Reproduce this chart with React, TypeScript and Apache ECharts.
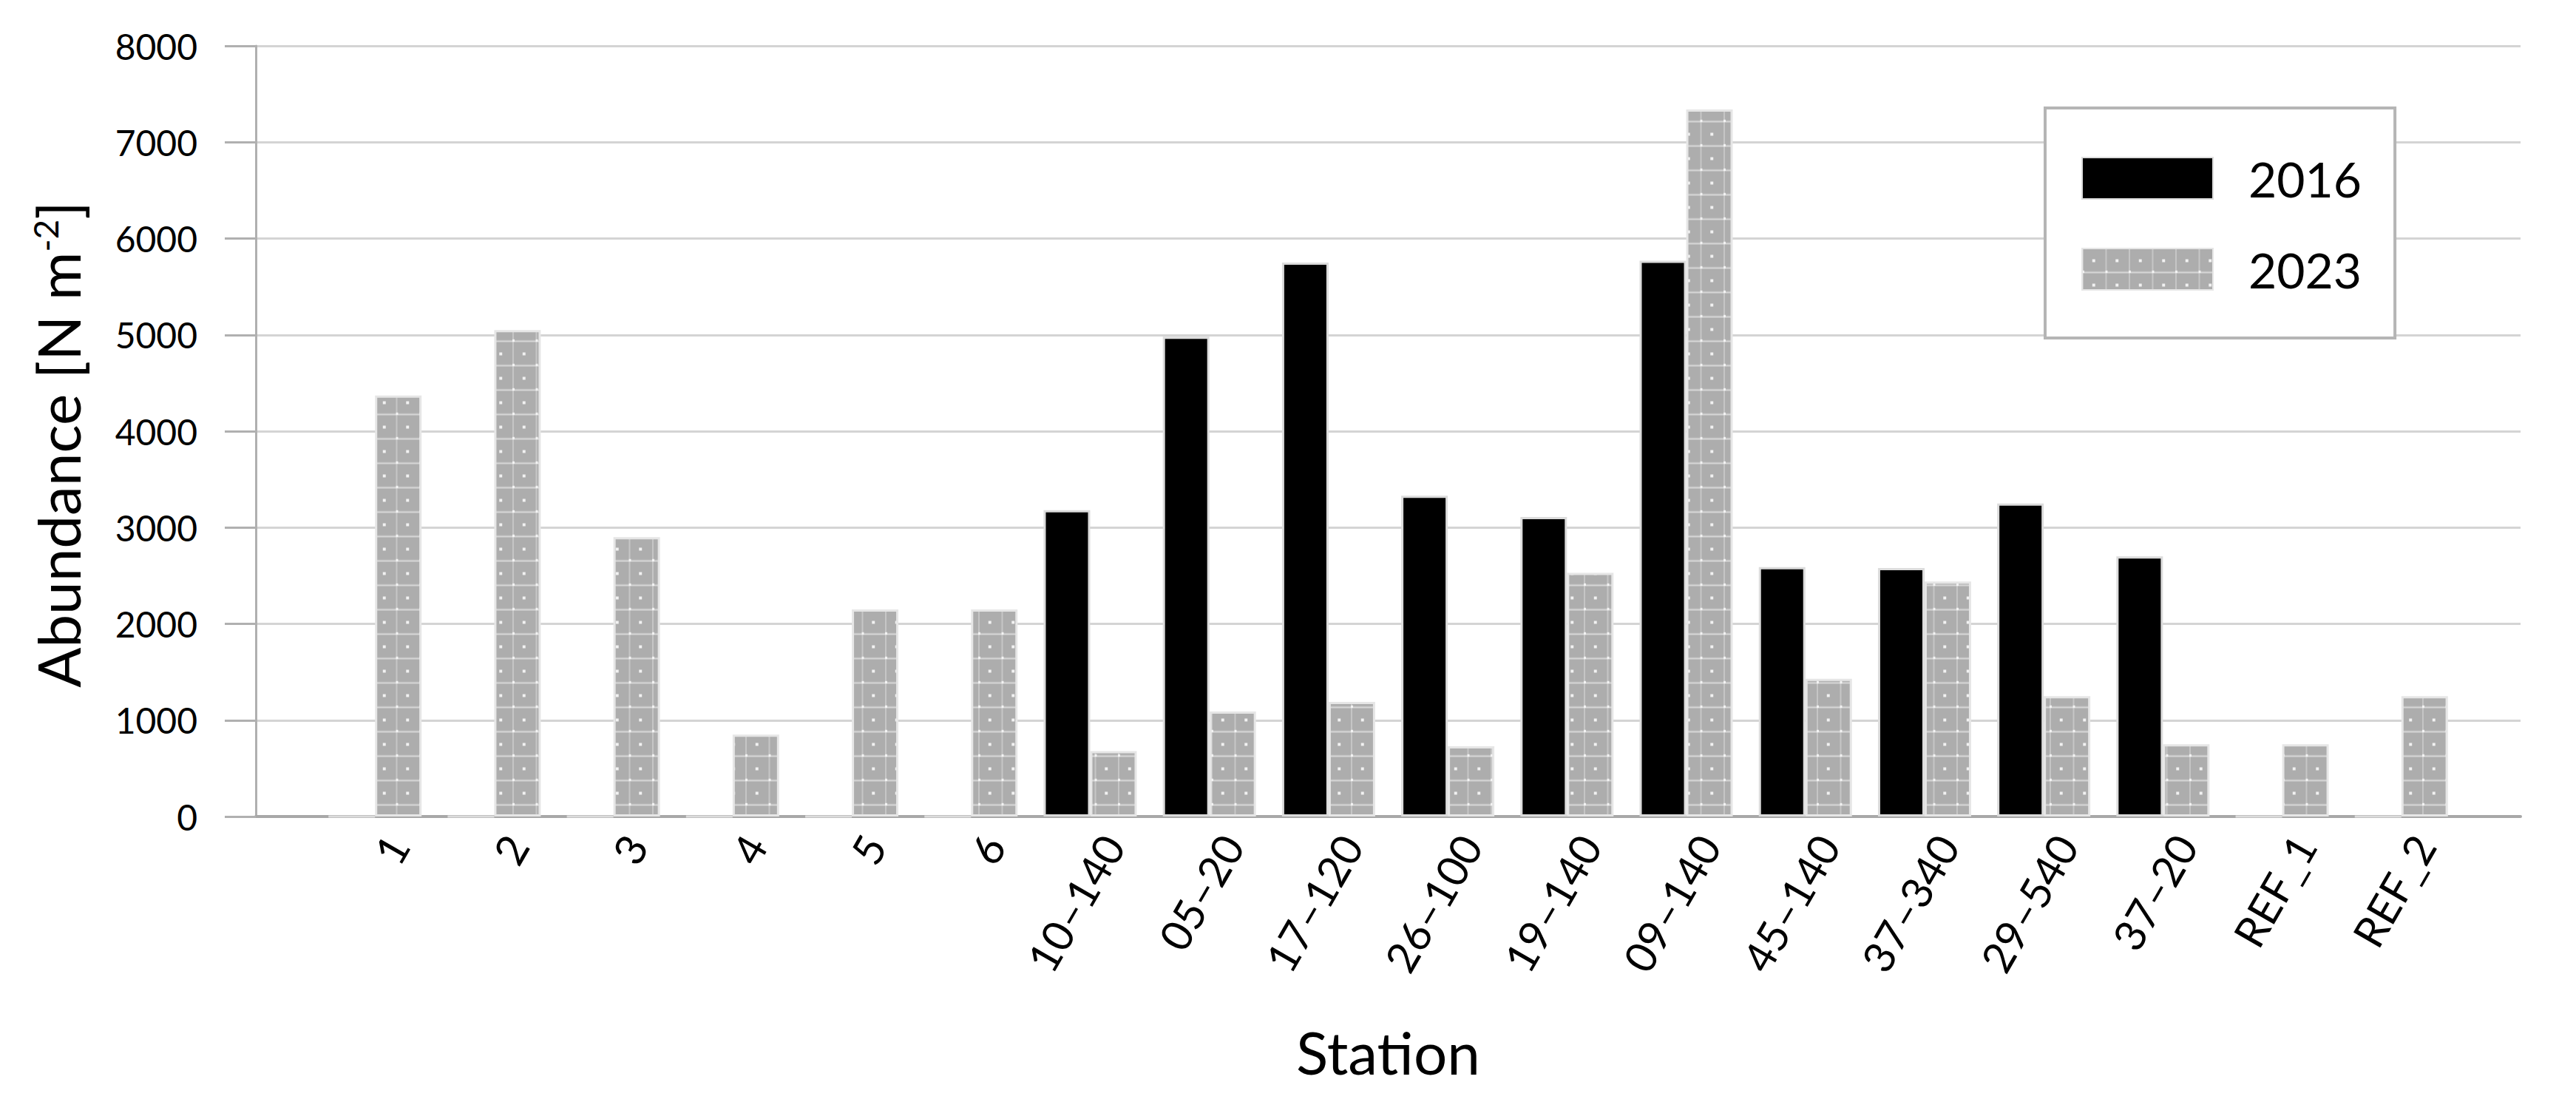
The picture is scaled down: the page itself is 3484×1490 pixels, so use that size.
import React, { useEffect, useRef } from "react";
import * as echarts from "echarts";

// ---- data ----
const stations = [
  "1", "2", "3", "4", "5", "6",
  "10\u2013140", "05\u201320", "17\u2013120", "26\u2013100", "19\u2013140", "09\u2013140",
  "45\u2013140", "37\u2013340", "29\u2013540", "37\u201320", "REF_1", "REF_2",
];
const abundance2016 = [0, 0, 0, 0, 0, 0, 3180, 4980, 5750, 3330, 3110, 5770, 2590, 2580, 3250, 2700, 0, 0];
const abundance2023 = [4370, 5050, 2900, 850, 2150, 2150, 680, 1090, 1190, 730, 2530, 7340, 1430, 2440, 1250, 750, 750, 1250];
const seriesNames = ["2016", "2023"];
const yMin = 0;
const yMax = 8000;
const yInterval = 1000;

const FONT = "Lato";

function makeTile() {
  const w = 32;
  const h = 33;
  const c = document.createElement("canvas");
  c.width = w;
  c.height = h;
  const ctx = c.getContext("2d")!;
  ctx.fillStyle = "#adadad";
  ctx.fillRect(0, 0, w, h);
  ctx.fillStyle = "#c6c6c6";
  ctx.fillRect(0, 0, 2, h);
  ctx.fillRect(0, h - 2, w, 2);
  ctx.fillStyle = "#f2f2f2";
  ctx.fillRect(w / 2 - 2, h / 2 - 2, 4, 4);
  ctx.fillRect(0, h - 3, 3, 3);
  return c;
}

function makePattern(tile: HTMLCanvasElement, x: number, y: number) {
  return { image: tile, repeat: "repeat", imageWidth: 31.5, imageHeight: 33, x, y } as any;
}

export default function App() {
  const ref = useRef<HTMLDivElement>(null);

  useEffect(() => {
    if (!ref.current) return;
    const chart = echarts.init(ref.current, null, { renderer: "svg" });
    const tile = makeTile();
    const cats = ["", ...stations, ""];
    const option: any = {
      animation: false,
      backgroundColor: "#ffffff",
      textStyle: { fontFamily: FONT },
      grid: { left: 346, right: 75, top: 62, bottom: 386, containLabel: false },
      legend: {
        orient: "vertical",
        left: 2766,
        top: 146,
        itemWidth: 177,
        itemHeight: 56,
        itemGap: 57,
        padding: [62, 45, 60, 49],
        borderColor: "#b5b5b5",
        borderWidth: 4,
        backgroundColor: "#ffffff",
        icon: "rect",
        data: seriesNames,
        textStyle: { fontFamily: FONT, fontSize: 66, color: "#000", padding: [0, 0, 0, 43] },
      },
      xAxis: {
        type: "category",
        data: cats,
        boundaryGap: false,
        axisLine: { show: true, lineStyle: { color: "#a8a8a8", width: 4 } },
        axisTick: { show: false },
        splitLine: { show: false },
        axisLabel: {
          interval: 0,
          rotate: 60,
          fontFamily: FONT,
          fontSize: 58,
          lineHeight: 70,
          color: "#000",
          margin: 12,
          // empty first line pushes each rotated label half a line towards the lower right
          formatter: (v: string) => (v ? "\n" + v : ""),
        },
        name: "Station",
        nameLocation: "middle",
        nameGap: 278,
        nameTextStyle: { fontFamily: FONT, fontSize: 80, color: "#000" },
      },
      yAxis: {
        type: "value",
        min: yMin,
        max: yMax,
        interval: yInterval,
        axisLine: { show: true, lineStyle: { color: "#b0b0b0", width: 3 } },
        axisTick: { show: true, length: 42, lineStyle: { color: "#b0b0b0", width: 3 } },
        axisLabel: {
          fontFamily: FONT,
          fontSize: 48,
          color: "#000",
          margin: 79,
          formatter: (v: number) => String(v),
        },
        splitLine: { show: true, lineStyle: { color: "#d4d4d4", width: 3 } },
        name: "Abundance [N m{sup|-2}]",
        nameLocation: "middle",
        nameGap: 228,
        nameTextStyle: {
          fontFamily: FONT,
          fontSize: 80,
          color: "#000",
          padding: [0, 36, 0, 0],
          rich: { sup: { fontFamily: FONT, fontSize: 46, color: "#000", verticalAlign: "top" } },
        },
      },
      series: [
        {
          name: seriesNames[0],
          type: "bar",
          data: [null, ...abundance2016, null],
          barWidth: 63,
          barGap: "0%",
          itemStyle: { color: "#000000", borderColor: "#dcdcdc", borderWidth: 3 },
        },
        {
          name: seriesNames[1],
          type: "bar",
          data: [null, ...abundance2023, null],
          barWidth: 63,
          barGap: "0%",
          itemStyle: { color: makePattern(tile, 2815, 210), borderColor: "#e6e6e6", borderWidth: 3 },
        },
      ],
    };
    chart.setOption(option);

    // align the dot pattern of every 2023 bar with its own left edge and the baseline
    const baseY = chart.convertToPixel({ yAxisIndex: 0 }, 0) as number;
    const items = [null, ...abundance2023, null].map((v, i) => {
      if (v == null) return null;
      const cx = chart.convertToPixel({ xAxisIndex: 0 }, i) as number;
      return { value: v, itemStyle: { color: makePattern(tile, cx, baseY) } };
    });
    chart.setOption({ series: [{}, { data: items }] });

    return () => chart.dispose();
  }, []);

  return (
    <div
      ref={ref}
      style={{ position: "fixed", left: 0, top: 0, width: "3484px", height: "1490px", background: "#fff" }}
    />
  );
}
